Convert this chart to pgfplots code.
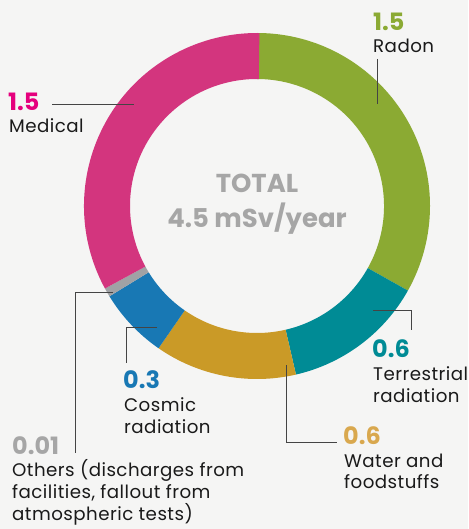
\documentclass[border=0pt]{standalone}
\usepackage{pgfplots}
\pgfplotsset{compat=1.18}
\usepackage{pgfplotstable}
\usepackage{fontspec}
\setmainfont{Poppins}
\newfontfamily\lblfont[LetterSpace=2.5]{Poppins}
\definecolor{bgc}{HTML}{F5F5F4}
\definecolor{cRadon}{HTML}{8BAA33}
\definecolor{cTerr}{HTML}{008B95}
\definecolor{cWater}{HTML}{CA9A27}
\definecolor{cCosmic}{HTML}{1878B4}
\definecolor{cOther}{HTML}{A0A2A5}
\definecolor{cMed}{HTML}{D3357E}
\definecolor{tMed}{HTML}{E5007D}
\definecolor{tWater}{HTML}{D9A84E}
\definecolor{tGray}{HTML}{A6A6A6}
\definecolor{txt}{HTML}{1A1A1A}
\definecolor{lead}{HTML}{444444}
\pgfplotstableread[col sep=comma]{
label,value,color
Radon,1.5,cRadon
Terrestrial,0.6,cTerr
Water,0.6,cWater
Cosmic,0.3,cCosmic
Others,0.01,cOther
Medical,1.5,cMed
}\doses
\tikzset{lbl/.style={font=\lblfont\fontsize{18.3}{20}\selectfont,text=txt,inner sep=0pt,anchor=base west},
  num/.style={font=\fontsize{24}{26}\selectfont\bfseries,inner sep=0pt,anchor=base west}}
\begin{document}
\begin{tikzpicture}
\begin{axis}[x=1bp,y=1bp,y dir=reverse,xmin=0,xmax=468,ymin=0,ymax=529,
  hide axis,clip=false]
\fill[bgc] (axis cs:0,0) rectangle (axis cs:468,529);
\pgfplotstablegetrowsof{\doses}
\pgfmathtruncatemacro\N{\pgfplotsretval-1}
\def\cur{90}
\pgfplotsforeachungrouped \i in {0,...,\N}{%
  \pgfplotstablegetelem{\i}{value}\of\doses \let\v\pgfplotsretval
  \pgfplotstablegetelem{\i}{color}\of\doses \let\c\pgfplotsretval
  \pgfmathsetmacro\spn{max(\v/4.51*360,3)/361.4*360}%
  \pgfmathsetmacro\nxt{\cur-\spn}%
  \pgfmathsetmacro\back{\nxt+180}%
  \edef\temp{\noexpand\fill[\c] (axis cs:257,206) ++(\cur:173bp) arc[start angle=\cur, end angle=\nxt, radius=173bp] -- ++(\back:46bp) arc[start angle=\nxt, end angle=\cur, radius=127bp] -- cycle;}%
  \temp
  \global\let\cur\nxt
}
% leader lines
\draw[lead,line width=0.8bp] (axis cs:377,59) -- (axis cs:377,104);
\draw[lead,line width=0.8bp] (axis cs:52,104) -- (axis cs:134,104);
\draw[lead,line width=0.8bp] (axis cs:373,310) -- (axis cs:411,310) -- (axis cs:411,330);
\draw[lead,line width=0.8bp] (axis cs:286,365) -- (axis cs:286,442) -- (axis cs:337,442);
\draw[lead,line width=0.8bp] (axis cs:157,327) -- (axis cs:126,327) -- (axis cs:126,363);
\draw[lead,line width=0.8bp] (axis cs:113,292) -- (axis cs:75,292) -- (axis cs:75,453);
% centre
\node[anchor=base,inner sep=0pt,text=tGray,font=\fontsize{26}{28}\selectfont\bfseries] at (axis cs:257,193) {TOTAL};
\node[anchor=base,inner sep=0pt,text=tGray,font=\fontsize{26}{28}\selectfont\bfseries] at (axis cs:257,227) {4.5 mSv/year};
% labels
\node[num,text=cRadon] at (axis cs:373,31) {1.5};
\node[lbl] at (axis cs:373,53) {Radon};
\node[num,text=tMed] at (axis cs:8,111) {1.5};
\node[lbl] at (axis cs:9,133) {Medical};
\node[num,text=cTerr] at (axis cs:372,357) {0.6};
\node[lbl] at (axis cs:373,380) {Terrestrial};
\node[lbl] at (axis cs:373,402) {radiation};
\node[num,text=tWater] at (axis cs:343,444) {0.6};
\node[lbl] at (axis cs:344,467) {Water and};
\node[lbl] at (axis cs:344,488) {foodstuffs};
\node[num,text=cCosmic] at (axis cs:123,388) {0.3};
\node[lbl] at (axis cs:124,411) {Cosmic};
\node[lbl] at (axis cs:124,433) {radiation};
\node[num,text=tGray] at (axis cs:12,454) {0.01};
\node[lbl] at (axis cs:12,476) {Others (discharges from};
\node[lbl] at (axis cs:12,498) {facilities, fallout from};
\node[lbl] at (axis cs:12,520) {atmospheric tests)};
\end{axis}
\end{tikzpicture}
\end{document}
